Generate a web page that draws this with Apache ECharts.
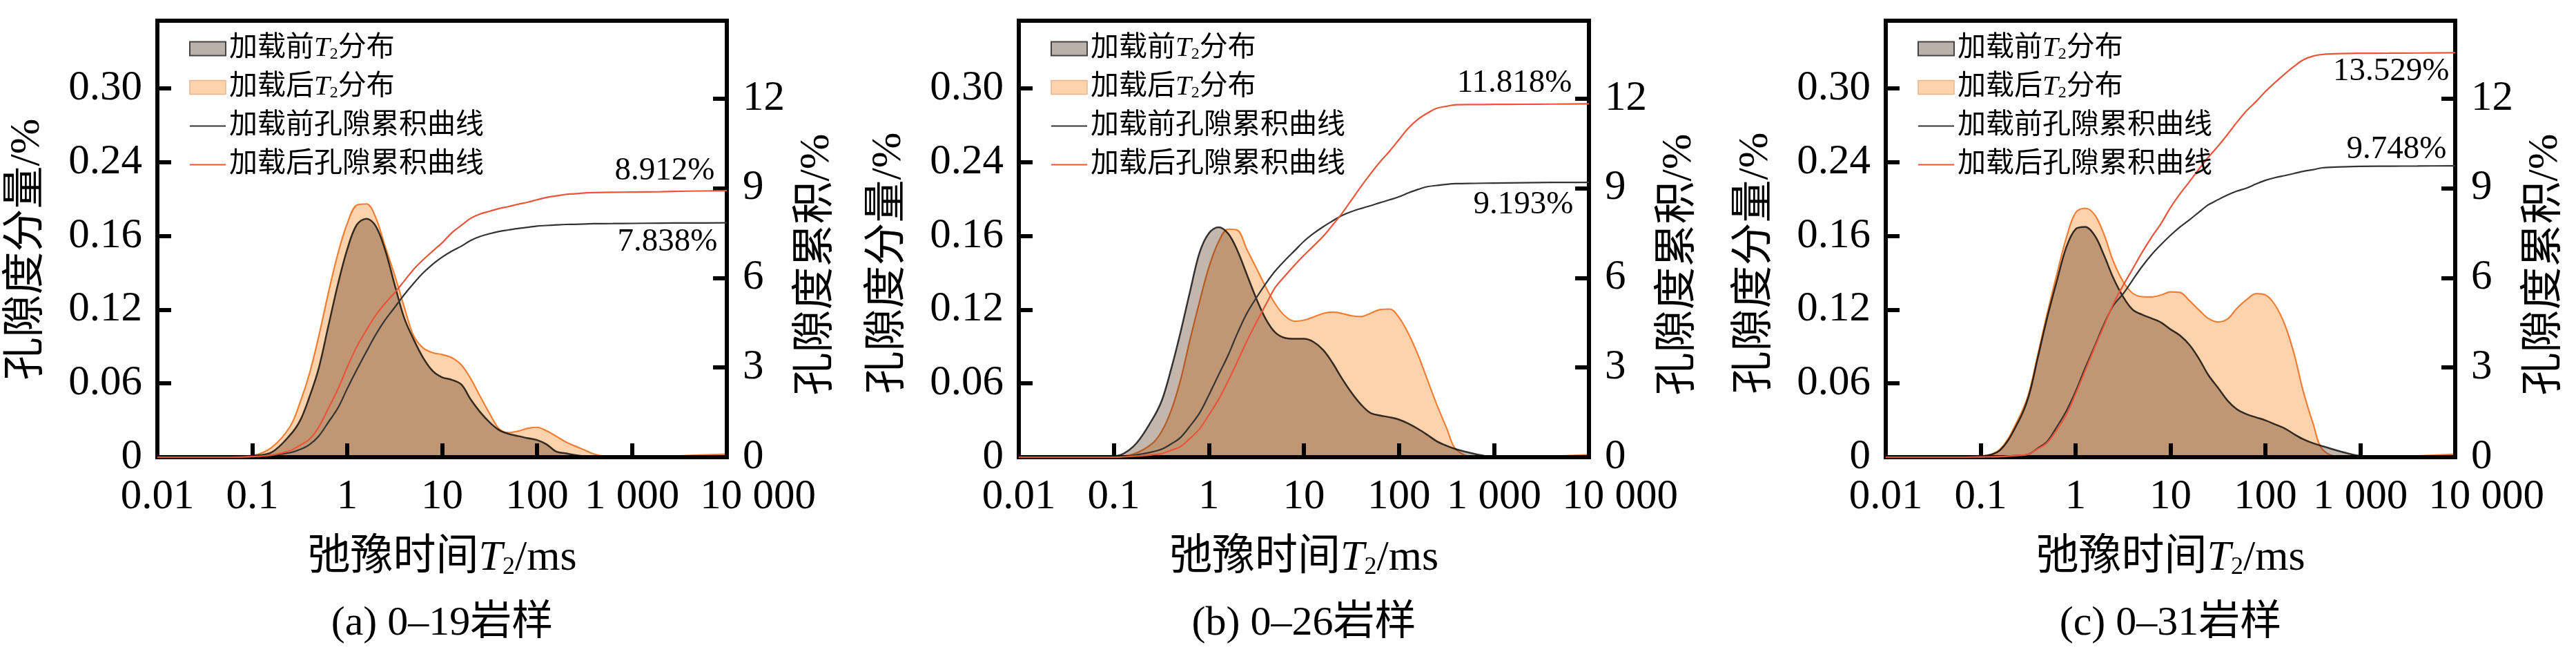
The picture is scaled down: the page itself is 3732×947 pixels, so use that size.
<!DOCTYPE html>
<html><head><meta charset="utf-8">
<script src="https://cdn.jsdelivr.net/npm/echarts/dist/echarts.min.js"></script>
<style>html,body{margin:0;padding:0;background:#fff}#c{width:3732px;height:947px}</style>
</head><body><div id="c"></div>
<script>
// relaxation time grid (ms)
const T2 = [0.01,0.03,0.06,0.1,0.16,0.25,0.32,0.4,0.5,0.63,0.8,1,1.26,1.6,2,2.5,3.2,4,5,6.3,8,10,12.6,16,20,25,32,40,50,63,80,100,126,160,200,250,320,400,630,1000,2000,4000,10000];

// (a) 0-19
const A_BEFORE = [0,0,0,0.001,0.004,0.018,0.030,0.049,0.072,0.106,0.141,0.169,0.189,0.194,0.188,0.169,0.139,0.113,0.096,0.081,0.070,0.065,0.063,0.059,0.047,0.037,0.028,0.022,0.019,0.0172,0.0155,0.014,0.0105,0.0045,0.0032,0.0018,0.0005,0,0,0,0,0,0];
const A_AFTER = [0,0,0.0002,0.0013,0.008,0.025,0.045,0.068,0.098,0.133,0.166,0.190,0.205,0.206,0.195,0.172,0.147,0.122,0.099,0.089,0.085,0.0835,0.081,0.075,0.064,0.050,0.035,0.023,0.0200,0.0212,0.0235,0.0243,0.0215,0.017,0.0125,0.0092,0.0058,0.0025,0,0,0.0003,0.0015,0.0025];
const A_CUM_BEFORE = [0,0,0,0.02,0.06,0.15,0.26,0.42,0.7,1.16,1.65,2.29,2.92,3.54,4.1,4.58,5.03,5.44,5.81,6.16,6.46,6.69,6.89,7.06,7.25,7.38,7.48,7.55,7.6,7.65,7.69,7.73,7.75,7.77,7.785,7.79,7.8,7.81,7.815,7.82,7.83,7.835,7.838];
const A_CUM_AFTER = [0,0,0,0.02,0.07,0.22,0.4,0.6,1.0,1.62,2.28,3.01,3.69,4.26,4.75,5.14,5.52,5.9,6.28,6.6,6.9,7.17,7.5,7.76,7.99,8.13,8.23,8.32,8.38,8.46,8.53,8.61,8.69,8.74,8.79,8.81,8.84,8.85,8.86,8.87,8.88,8.9,8.912];

// (b) 0-26
const B_BEFORE = [0,0,0,0.0005,0.0086,0.0298,0.0462,0.0714,0.1007,0.134,0.1666,0.1822,0.187,0.1818,0.168,0.149,0.128,0.112,0.1014,0.097,0.0963,0.0963,0.0938,0.0871,0.0768,0.0644,0.0521,0.0428,0.0361,0.034,0.0325,0.0306,0.0273,0.0229,0.0181,0.013,0.0092,0.0065,0.0027,0,0,0.0004,0.001];
const B_AFTER = [0,0,0,0.0002,0.0025,0.0107,0.0212,0.0378,0.062,0.095,0.127,0.1545,0.175,0.1855,0.1847,0.1694,0.153,0.138,0.1247,0.115,0.1106,0.1115,0.114,0.117,0.118,0.117,0.115,0.1144,0.117,0.120,0.1205,0.1138,0.1005,0.0827,0.0628,0.043,0.0231,0.0063,0,0,0,0.0008,0.002];
const B_CUM_BEFORE = [0,0,0,0,0.06,0.17,0.27,0.44,0.65,1.03,1.48,2.08,2.74,3.42,4.15,4.8,5.36,5.82,6.23,6.58,6.91,7.22,7.48,7.71,7.9,8.08,8.22,8.32,8.41,8.51,8.61,8.71,8.84,8.96,9.05,9.09,9.13,9.15,9.16,9.17,9.18,9.19,9.193];
const B_CUM_AFTER = [0,0,0,0,0.03,0.08,0.12,0.23,0.35,0.62,0.95,1.41,1.92,2.56,3.2,3.87,4.54,5.12,5.68,6.06,6.43,6.75,7.06,7.39,7.76,8.14,8.62,9.06,9.47,9.87,10.24,10.62,11.01,11.31,11.51,11.67,11.74,11.79,11.795,11.8,11.805,11.81,11.818];

// (c) 0-31
const C_BEFORE = [0,0,0.0002,0.0007,0.0057,0.029,0.0494,0.081,0.113,0.1424,0.171,0.1855,0.1873,0.180,0.164,0.1458,0.130,0.120,0.116,0.113,0.1095,0.104,0.099,0.091,0.080,0.067,0.056,0.046,0.039,0.035,0.0324,0.030,0.0268,0.0234,0.0188,0.0147,0.0113,0.009,0.0045,0.0011,0,0.0003,0.0008];
const C_AFTER = [0,0,0.0002,0.0007,0.0064,0.0313,0.0517,0.0835,0.1163,0.148,0.1787,0.199,0.2025,0.197,0.181,0.1594,0.1424,0.1334,0.1306,0.1304,0.132,0.1345,0.134,0.127,0.1197,0.113,0.110,0.1125,0.121,0.128,0.133,0.132,0.124,0.108,0.0846,0.054,0.0268,0.0064,0,0,0,0.001,0.0025];
const C_CUM_BEFORE = [0,0,0,0.01,0.02,0.06,0.1,0.3,0.52,1.0,1.55,2.2,2.98,3.74,4.46,5.07,5.48,5.93,6.37,6.77,7.12,7.42,7.7,7.95,8.2,8.44,8.62,8.77,8.9,9.0,9.14,9.26,9.35,9.42,9.49,9.56,9.62,9.68,9.71,9.73,9.735,9.74,9.748];
const C_CUM_AFTER = [0,0,0,0.01,0.02,0.06,0.1,0.28,0.48,0.9,1.42,2.12,2.89,3.69,4.41,5.13,5.77,6.3,6.84,7.35,7.83,8.35,8.81,9.23,9.64,10.03,10.42,10.8,11.2,11.58,11.9,12.23,12.53,12.82,13.07,13.29,13.42,13.47,13.5,13.51,13.515,13.52,13.529];

const X_TICKS = ['0.01','0.1','1','10','100','1 000','10 000'];
const LEFT_TICKS = ['0','0.06','0.12','0.16','0.24','0.30'];
const RIGHT_TICKS = ['0','3','6','9','12'];
const CAPTIONS = ['(a) 0\u201319岩样','(b) 0\u201326岩样','(c) 0\u201331岩样'];
const NAMES = ['加载前T2分布','加载后T2分布','加载前孔隙累积曲线','加载后孔隙累积曲线'];

const FONT = "'Liberation Serif','Noto Sans CJK SC',serif";
const TOP = 30, H = 632;
const PANELS = [
  {left:228, width:825, d:[A_BEFORE,A_AFTER,A_CUM_BEFORE,A_CUM_AFTER], offB:[-13,28], offA:[-17,-28], lShift:15, rShift:37},
  {left:1476, width:826, d:[B_BEFORE,B_AFTER,B_CUM_BEFORE,B_CUM_AFTER], offB:[-22,33], offA:[-24,-29], lShift:35, rShift:37},
  {left:2732, width:825, d:[C_BEFORE,C_AFTER,C_CUM_BEFORE,C_CUM_AFTER], offB:[-12,-23], offA:[-8,28], lShift:35, rShift:37}
];

const pairs = arr => T2.map((t,i)=>[t, arr[i]]);
const tickStyle = {show:true, inside:true, length:20, lineStyle:{color:'#000', width:6}};
const numLabel = {fontSize:61, fontFamily:FONT, color:'#000'};
const noDot = {color:'rgba(0,0,0,0)', borderColor:'rgba(0,0,0,0)', borderWidth:0, opacity:0};

const option = {animation:false, backgroundColor:'#fff', grid:[], xAxis:[], yAxis:[], series:[], legend:[], graphic:[]};

PANELS.forEach((p,k)=>{
  option.grid.push({left:p.left, top:TOP, width:p.width, height:H, show:true, borderColor:'#000', borderWidth:6, backgroundColor:'transparent', containLabel:false, outerBoundsMode:'none'});
  option.xAxis.push({
    type:'log', logBase:10, gridIndex:k, min:0.01, max:10000,
    name:'弛豫时间{i|T}{s|2}/ms', nameLocation:'middle', nameGap:116,
    nameTextStyle:{fontSize:62, lineHeight:62, fontFamily:FONT, color:'#000',
      rich:{i:{fontSize:62, lineHeight:62, fontStyle:'italic', fontFamily:FONT, color:'#000'},
            s:{fontSize:36, lineHeight:22, verticalAlign:'bottom', fontFamily:FONT, color:'#000'}}},
    axisLine:{show:false}, axisTick:tickStyle, splitLine:{show:false}, minorTick:{show:false},
    axisLabel:Object.assign({margin:27, showMinLabel:true, showMaxLabel:true,
      formatter:v=>{const i=Math.round(Math.log10(v))+2; if(i===X_TICKS.length-1) return '{r|'+X_TICKS[i]+'}'; return X_TICKS[i]||'';},
      rich:{r:{padding:[0,0,0,90], fontSize:61, fontFamily:FONT, color:'#000'}}}, numLabel)
  });
  option.yAxis.push({
    type:'value', gridIndex:k, position:'left', min:0, max:0.355, interval:0.06,
    name:'孔隙度分量/%', nameLocation:'middle', nameRotate:90, nameGap:157,
    nameTextStyle:{fontSize:62, fontFamily:FONT, color:'#000', padding:[0,p.lShift*2,0,0]},
    axisLine:{show:false}, axisTick:tickStyle, splitLine:{show:false},
    axisLabel:Object.assign({margin:22, showMaxLabel:false,
      formatter:v=>{const i=Math.round(v/0.06); return (Math.abs(v-i*0.06)<1e-6 && i<LEFT_TICKS.length)?LEFT_TICKS[i]:'';}}, numLabel)
  });
  option.yAxis.push({
    type:'value', gridIndex:k, position:'right', min:0, max:14.6, interval:3,
    name:'孔隙度累积/%', nameLocation:'middle', nameRotate:90, nameGap:100,
    nameTextStyle:{fontSize:62, fontFamily:FONT, color:'#000', padding:[0,p.rShift*2,0,0]},
    axisLine:{show:false}, axisTick:tickStyle, splitLine:{show:false},
    axisLabel:Object.assign({margin:23, showMaxLabel:false,
      formatter:v=>{const i=Math.round(v/3); return (Math.abs(v-i*3)<1e-6 && i<RIGHT_TICKS.length)?RIGHT_TICKS[i]:'';}}, numLabel)
  });
  const yl = 2*k, yr = 2*k+1;
  option.series.push({
    type:'line', name:NAMES[0], xAxisIndex:k, yAxisIndex:yl, data:pairs(p.d[0]), smooth:0.35, symbol:'none',
    lineStyle:{color:'#3a3a3a', width:2.5}, itemStyle:{color:'#c2b6ad'}, areaStyle:{color:'#c2b6ad', opacity:1},
    blendMode:'multiply', z:2
  });
  option.series.push({
    type:'line', name:NAMES[1], xAxisIndex:k, yAxisIndex:yl, data:pairs(p.d[1]), smooth:0.35, symbol:'none',
    lineStyle:{color:'#f08c42', width:2.2}, itemStyle:{color:'#fdd3ad'}, areaStyle:{color:'#fdd3ad', opacity:1},
    blendMode:'multiply', z:2
  });
  const mk = (arr, off) => ({
    symbol:'circle', symbolSize:1, silent:true, itemStyle:{color:'rgba(0,0,0,0)'},
    label:{show:true, position:off, align:'right', verticalAlign:'middle', fontSize:47, fontFamily:FONT, color:'#000',
      formatter:d=>Number(d.value).toFixed(3)+'%'},
    data:[{coord:[10000, arr[arr.length-1]], value:arr[arr.length-1]}]
  });
  option.series.push({
    type:'line', name:NAMES[2], xAxisIndex:k, yAxisIndex:yr, data:pairs(p.d[2]), smooth:0.35, symbol:'none',
    lineStyle:{color:'#333333', width:2.2}, itemStyle:{color:'#333333'}, z:3, markPoint:mk(p.d[2], p.offB)
  });
  option.series.push({
    type:'line', name:NAMES[3], xAxisIndex:k, yAxisIndex:yr, data:pairs(p.d[3]), smooth:0.35, symbol:'none',
    lineStyle:{color:'#e9553a', width:2.2}, itemStyle:{color:'#e9553a'}, z:3, markPoint:mk(p.d[3], p.offA)
  });
  option.legend.push({
    orient:'vertical', left:p.left+46, top:50, padding:0, itemWidth:52, itemHeight:20, itemGap:15, selectedMode:false,
    data:[
      {name:NAMES[0], icon:'rect', itemStyle:{color:'#bab1ab', borderColor:'#444', borderWidth:2}},
      {name:NAMES[1], icon:'rect', itemStyle:{color:'#fdd3ad', borderColor:'#e6b690', borderWidth:1.5}},
      {name:NAMES[2], itemStyle:noDot, lineStyle:{color:'#333333', width:2}},
      {name:NAMES[3], itemStyle:noDot, lineStyle:{color:'#e9553a', width:2}}
    ],
    formatter:n=>n.replace('T2','{i|T}{s|2}'),
    textStyle:{fontSize:41, lineHeight:41, fontFamily:FONT, color:'#000',
      rich:{i:{fontSize:41, lineHeight:41, fontStyle:'italic', fontFamily:FONT, color:'#000'},
            s:{fontSize:24, lineHeight:13, verticalAlign:'bottom', fontFamily:FONT, color:'#000'}}}
  });
  option.graphic.push({type:'text', x:p.left+p.width/2, y:903, silent:true,
    style:{text:CAPTIONS[k], fontSize:60, fontFamily:FONT, fill:'#000', align:'center', verticalAlign:'middle'}});
});

const chart = echarts.init(document.getElementById('c'), null, {renderer:'canvas'});
chart.setOption(option);
</script>
</body></html>
